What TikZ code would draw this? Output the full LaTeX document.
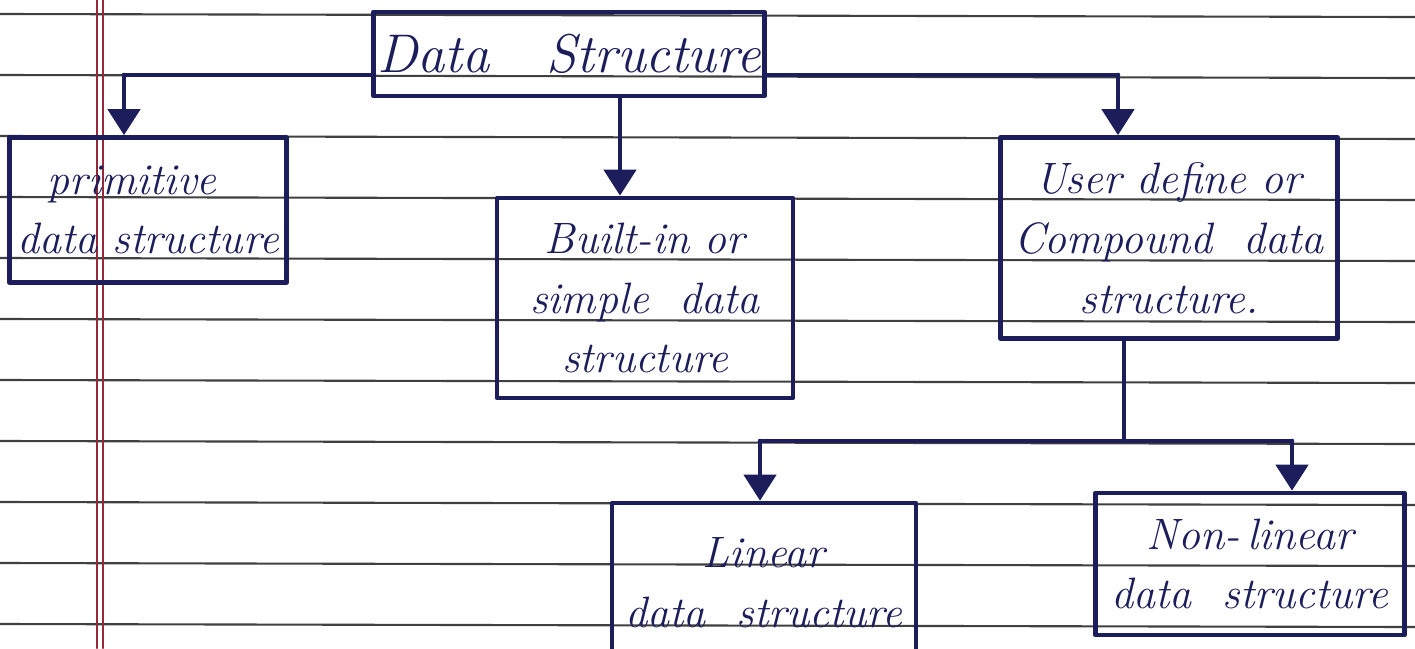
\documentclass[tikz,border=0pt]{standalone}
\usetikzlibrary{arrows.meta,positioning}
\definecolor{ink}{RGB}{28,30,92}
\definecolor{margin}{RGB}{150,40,60}
\begin{document}
\begin{tikzpicture}[x=0.01cm, y=-0.01cm, line join=round, line cap=round,
		box/.style={draw=ink, line width=1.3pt, text=ink, inner sep=1pt,
			font=\fontsize{12.5}{17}\selectfont\itshape, align=center},
		link/.style={draw=ink, line width=1.3pt},
		tip/.style={-{Triangle[width=3.2mm,length=2.6mm,fill=ink]}, link}]
	\def\W{1415}\def\H{648}
	\useasboundingbox (0,0) rectangle (\W,\H);
	\clip (0,0) rectangle (\W,\H);
	% ruled paper
	\fill[white] (0,0) rectangle (\W,\H);
	\foreach \y in {0,...,10}\draw[black!75, line width=0.6pt] (0,14+61*\y)--(\W,14+61*\y+3);
	\foreach \x in {97,103}\draw[margin, line width=0.8pt] (\x,0)--(\x,\H);
	% boxes
	\node[box, minimum width=3.86cm, minimum height=0.84cm, font=\fontsize{15.5}{19}\selectfont\itshape] (ds) at (569,54) {Data\ \ \ Structure};
	\node[box, minimum width=2.77cm, minimum height=1.45cm, align=left] (prim) at (148,210) {\ \ primitive\\data\ structure};
	\node[box, minimum width=2.96cm, minimum height=2.00cm] (bin) at (645,298) {Built-in or\\simple\ \ data\\structure};
	\node[box, minimum width=3.37cm, minimum height=2.01cm] (user) at (1169,238) {User define or\\Compound\ \ data\\structure.};
	\node[box, minimum width=3.04cm, minimum height=1.60cm] (lin) at (764,583) {Linear\\data\ \ structure};
	\node[box, minimum width=3.09cm, minimum height=1.42cm] (nlin) at (1250,564) {Non-\,linear\\data\ \ structure};
	% connectors
	\coordinate (lt) at (124,75);
	\coordinate (rt) at (1118,75);
	\draw[link] (ds.west |- lt)--(lt);
	\draw[link] (ds.east |- rt)--(rt);
	\draw[tip] (lt)--(lt |- prim.north);
	\draw[tip] (rt)--(rt |- user.north);
	\draw[tip] (ds.south -| 620,0)--(620,0 |- bin.north);
	\coordinate (mid) at (1124,441);
	\coordinate (ll) at (760,441);
	\coordinate (rr) at (1292,441);
	\draw[link] (user.south -| mid)--(mid);
	\draw[link] (ll)--(rr);
	\draw[tip] (ll)--(ll |- lin.north);
	\draw[tip] (rr)--(rr |- nlin.north);
\end{tikzpicture}
\end{document}
